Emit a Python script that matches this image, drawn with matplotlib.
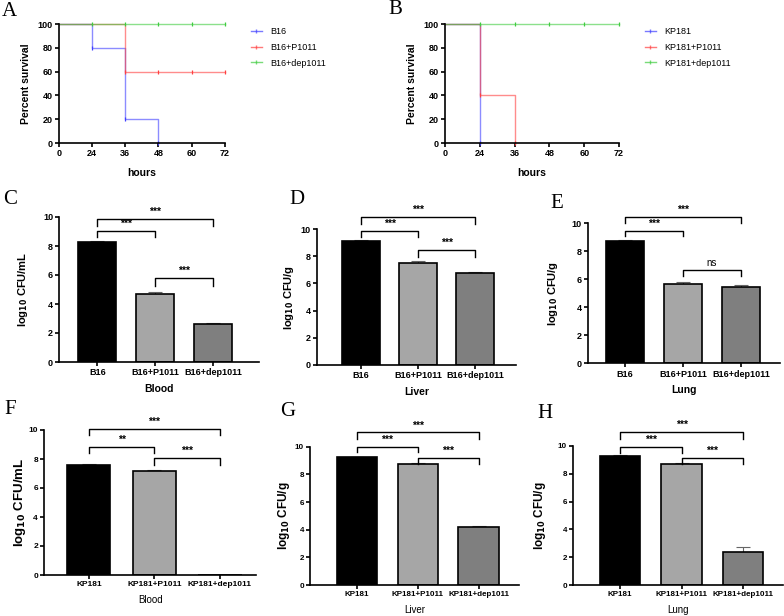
import numpy as np
import matplotlib
matplotlib.use("Agg")
import matplotlib.pyplot as plt
from matplotlib.lines import Line2D

plt.rcParams['font.family'] = ['Liberation Sans', 'DejaVu Sans']
plt.rcParams['font.size'] = 6.5

W, H = 784, 616

# ---- survival data (hours, percent) ----
tick_hours = [0, 24, 36, 48, 60, 72]

a_labels = ["B16", "B16+P1011", "B16+dep1011"]
a_times = [[0, 24, 36, 48], [0, 36, 72], [0, 72]]
a_surv = [[100, 80, 20, 0], [100, 60, 60], [100, 100]]
a_censor = [[24, 36, 48], [36, 48, 60, 72], [24, 36, 48, 60, 72]]

b_labels = ["KP181", "KP181+P1011", "KP181+dep1011"]
b_times = [[0, 24], [0, 24, 36], [0, 72]]
b_surv = [[100, 0], [100, 40, 0], [100, 100]]
b_censor = [[24], [24, 36], [24, 36, 48, 60, 72]]

surv_colors = ["#4040ff", "#ff4040", "#40cc40"]

# ---- bacterial load data (log10 CFU) ----
b16_groups = ["B16", "B16+P1011", "B16+dep1011"]
kp_groups = ["KP181", "KP181+P1011", "KP181+dep1011"]

c_mean = [8.27, 4.72, 2.60]
c_err = [0.05, 0.13, 0.07]
d_mean = [9.12, 7.50, 6.76]
d_err = [0.05, 0.17, 0.08]
e_mean = [8.74, 5.66, 5.43]
e_err = [0.10, 0.12, 0.14]
f_mean = [7.62, 7.15, 0.0]
f_err = [0.03, 0.08, 0.0]
g_mean = [9.22, 8.74, 4.19]
g_err = [0.04, 0.06, 0.05]
h_mean = [9.30, 8.72, 2.40]
h_err = [0.03, 0.06, 0.32]

pairs = [(0, 1), (0, 2), (1, 2)]
c_stars = ["***", "***", "***"]
d_stars = ["***", "***", "***"]
e_stars = ["***", "***", "ns"]
f_stars = ["**", "***", "***"]
g_stars = ["***", "***", "***"]
h_stars = ["***", "***", "***"]

bar_colors = ["#000000", "#a6a6a6", "#7f7f7f"]


def px_axes(fig, left, right, top, bottom):
    return fig.add_axes([left / W, 1 - bottom / H, (right - left) / W, (bottom - top) / H])


def style_axes(ax, tsize=6.5):
    for s in ["top", "right"]:
        ax.spines[s].set_visible(False)
    for s in ["left", "bottom"]:
        ax.spines[s].set_linewidth(1.2)
    ax.tick_params(width=1.2, length=3, pad=1.5, labelsize=tsize)
    for lab in ax.get_xticklabels() + ax.get_yticklabels():
        lab.set_fontweight("bold")


def ylabel_at(ax, text, px, left, right, size):
    ax.set_ylabel(text, fontsize=size, fontweight="bold")
    ax.yaxis.set_label_coords((px - left) / (right - left), 0.5)


def survival(fig, box, times, surv, censor, labels, leg_xy):
    left, right, top, bottom = box
    ax = px_axes(fig, left, right, top, bottom)
    idx = np.arange(len(tick_hours))
    for t, s, c, col, lab in zip(times, surv, censor, surv_colors, labels):
        x = np.interp(t, tick_hours, idx)
        ax.step(x, s, where="post", color=col, lw=1.0, alpha=0.6, clip_on=False)
        cx = np.interp(c, tick_hours, idx)
        cy = [s[np.searchsorted(t, h, side="right") - 1] for h in c]
        ax.plot(cx, cy, ls="none", marker="|", ms=3, mew=0.9, color=col, clip_on=False)
    ax.set_xlim(0, len(tick_hours) - 1)
    ax.set_ylim(0, 100)
    ax.set_xticks(idx)
    ax.set_xticklabels([str(h) for h in tick_hours])
    ax.set_yticks(range(0, 101, 20))
    ax.set_xlabel("hours", fontsize=7.5, fontweight="bold", labelpad=7)
    style_axes(ax)
    ylabel_at(ax, "Percent survival", left - 28, left, right, 7.5)
    handles = [Line2D([0], [0], color=c, lw=1.0, alpha=0.7, marker="|", ms=3) for c in surv_colors]
    fig.legend(handles, labels, loc="upper left", bbox_to_anchor=(leg_xy[0] / W, 1 - leg_xy[1] / H),
               frameon=False, fontsize=6.5, borderpad=0, borderaxespad=0, handlelength=1.2,
               handletextpad=0.9, labelspacing=0.75)
    return ax


def bars(fig, box, xlim, groups, mean, err, stars, levels, tips, xlabel, xbold, ylab, ylab_px,
         ysize, tsize):
    left, right, top, bottom = box
    ax = px_axes(fig, left, right, top, bottom)
    x = np.arange(len(groups))
    ax.bar(x, mean, width=0.66, color=bar_colors, edgecolor="black", linewidth=1.2, zorder=2)
    for xi, m, e in zip(x, mean, err):
        if e > 0:
            ax.errorbar(xi, m, yerr=[[0], [e]], color="#666666", capsize=5, elinewidth=0.8,
                        capthick=0.8, zorder=1)
    for (i, j), s, lv, tp in zip(pairs, stars, levels, tips):
        ax.plot([x[i], x[i], x[j], x[j]], [tp, lv, lv, tp], color="black", lw=1.0, clip_on=False)
        ax.annotate(s, ((x[i] + x[j]) / 2, lv), xytext=(0, 1.5), textcoords="offset points",
                    ha="center", va="bottom", fontsize=7.5 if s != "ns" else 7,
                    fontweight="bold" if s != "ns" else "normal", annotation_clip=False)
    ax.set_xlim(*xlim)
    ax.set_ylim(0, 10)
    ax.set_yticks(range(0, 11, 2))
    ax.set_xticks(x)
    ax.set_xticklabels(groups)
    ax.set_xlabel(xlabel, fontsize=7.5 if xbold else 7, fontweight="bold" if xbold else "normal",
                  labelpad=5)
    style_axes(ax, tsize)
    ylabel_at(ax, ylab, ylab_px, left, right, ysize)
    return ax


fig = plt.figure(figsize=(W / 100, H / 100), dpi=100)

survival(fig, (58.7, 225, 24, 143), a_times, a_surv, a_censor, a_labels, (251, 27))
survival(fig, (445, 619, 24, 143), b_times, b_surv, b_censor, b_labels, (645, 27))

ml = r"log$_{\mathbf{10}}$ CFU/mL"
gl = r"log$_{\mathbf{10}}$ CFU/g"

bars(fig, (59.3, 259, 217, 362), (-0.66, 2.8), b16_groups, c_mean, c_err, c_stars,
     [9.05, 9.84, 5.77], [8.64, 9.4, 5.24], "Blood", True, ml, 30, 8, 6.5)
bars(fig, (316.7, 516, 229, 365), (-0.78, 2.72), b16_groups, d_mean, d_err, d_stars,
     [9.85, 10.86, 8.46], [9.39, 10.34, 7.96], "Liver", True, gl, 296, 8, 6.5)
bars(fig, (587.7, 780, 223.3, 363.3), (-0.64, 2.67), b16_groups, e_mean, e_err, e_stars,
     [9.48, 10.43, 6.67], [9.12, 10.04, 6.24], "Lung", True, gl, 560, 8, 6.5)
bars(fig, (44.3, 256, 430, 575), (-0.68, 2.55), kp_groups, f_mean, f_err, f_stars,
     [8.8, 10.07, 8.07], [8.39, 9.66, 7.6], "Blood", False, ml, 28, 9.5, 6)
bars(fig, (310, 519.3, 446.7, 585), (-0.77, 2.67), kp_groups, g_mean, g_err, g_stars,
     [10.0, 11.03, 9.16], [9.64, 10.55, 8.75], "Liver", False, gl, 292, 8.5, 5.8)
bars(fig, (573.3, 783, 446, 585), (-0.76, 2.65), kp_groups, h_mean, h_err, h_stars,
     [9.95, 10.99, 9.11], [9.52, 10.48, 8.7], "Lung", False, gl, 548, 8.5, 5.8)

letters = {"A": (9, 11), "B": (395, 10), "C": (10, 199), "D": (297, 200),
           "E": (557, 203), "F": (10, 410), "G": (288, 412), "H": (545, 414)}
for k, (lx, ly) in letters.items():
    fig.text(lx / W, 1 - ly / H, k, fontsize=15, family="Liberation Serif",
             ha="center", va="center")

fig.savefig("out.png", dpi=100)
